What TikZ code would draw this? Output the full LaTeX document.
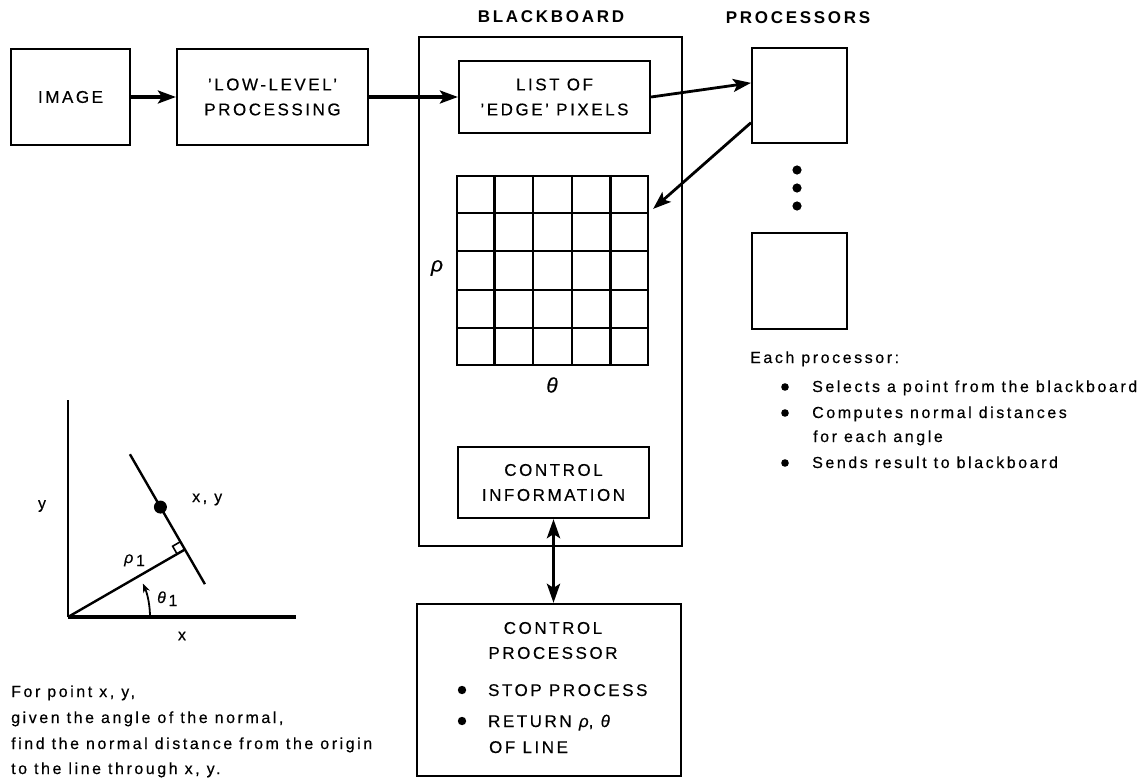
\documentclass[tikz,border=0pt]{standalone}
\usepackage{fontspec}
\setmainfont{Liberation Sans}
\newfontfamily\capsfont{Liberation Sans}[LetterSpace=15,FakeBold=0.4]
\newfontfamily\headfont{Liberation Sans Bold}[LetterSpace=16]
\newfontfamily\bodyfont{Liberation Sans}[LetterSpace=16,FakeBold=0.4]
\newfontfamily\captfont{Liberation Sans}[LetterSpace=16,FakeBold=0.4]
\newfontfamily\grkfont{Liberation Sans Italic}[FakeBold=0.4]
\newcommand{\grho}{{\grkfont ρ}}
\newcommand{\gtheta}{{\grkfont θ}}
\usetikzlibrary{arrows.meta,calc}
\begin{document}
\begin{tikzpicture}[x=1pt,y=-1pt,
  box/.style={draw, line width=2.2pt, inner sep=0pt, align=center,
    font=\capsfont\fontsize{17}{25}\selectfont},
  thinbox/.style={draw, line width=1.6pt, inner sep=0pt},
  head/.style={inner sep=0pt, font=\headfont\fontsize{17}{20}\selectfont},
  body/.style={inner sep=0pt, anchor=base west, font=\bodyfont\fontsize{16}{20}\selectfont},
  capt/.style={inner sep=0pt, anchor=base west, font=\captfont\fontsize{16}{20}\selectfont},
  lbl/.style={inner sep=0pt, font=\bodyfont\fontsize{16}{20}\selectfont},
  arr/.style={line width=3.2pt, -{Stealth[length=18pt,width=13pt,inset=4pt]}},
  darr/.style={line width=3.4pt, {Stealth[length=19pt,width=13pt,inset=4pt]}-{Stealth[length=19pt,width=13pt,inset=4pt]}},
  gridline/.style={line width=2.2pt},
  axis/.style={line width=2.4pt},
  dotmark/.style={fill=black}
]
\useasboundingbox (0,0) rectangle (1145,778);

% top row boxes
\node[box, minimum width=119pt, minimum height=96pt] (img) at (70.5,97) {IMAGE};
\node[box, minimum width=191pt, minimum height=96pt] (low) at (272.5,97) {’LOW-LEVEL’\\PROCESSING};

% blackboard
\node[head] (bbl) at (551,17) {BLACKBOARD};
\node[thinbox, minimum width=263pt, minimum height=509pt] (bb) at (550.5,291.5) {};
\node[box, minimum width=191pt, minimum height=72pt] (list) at (554.5,97) {LIST OF\\’EDGE’ PIXELS};

% accumulator grid
\node[draw, gridline, inner sep=0pt, minimum width=191pt, minimum height=189pt] (grid) at (552.5,270.5) {};
\foreach \i in {1,...,4} {
  \draw[gridline] ($(grid.north west)!\i/5!(grid.north east)$) -- ($(grid.south west)!\i/5!(grid.south east)$);
  \draw[gridline] ($(grid.north west)!\i/5!(grid.south west)$) -- ($(grid.north east)!\i/5!(grid.south east)$);
}
\node[inner sep=0pt, font=\fontsize{21}{21}\selectfont] (rho) at (437,268) {\grho};
\node[inner sep=0pt, font=\fontsize{21}{21}\selectfont] (theta) at (552,385) {\gtheta};

\node[box, minimum width=191pt, minimum height=71pt] (cinfo) at (553.5,482.5) {CONTROL\\INFORMATION};

% control processor
\node[box, minimum width=264pt, minimum height=172pt] (cproc) at (549,690) {};
\node[box, draw=none, anchor=center] (cproct) at (553,640.5) {CONTROL\\PROCESSOR};
\fill[dotmark] (462,690) circle (4.2);
\fill[dotmark] (462,721) circle (4.2);
\node[box, draw=none, anchor=base west] (stop) at (487,696) {STOP PROCESS};
\node[box, draw=none, anchor=base west] (ret) at (487,727) {RETURN \grho, \gtheta};
\node[box, draw=none, anchor=base west] (ofl) at (488,753) {OF LINE};

% processors
\node[head] (procl) at (798,18) {PROCESSORS};
\node[thinbox, line width=2pt, minimum width=95pt, minimum height=95pt] (p1) at (799.5,95.5) {};
\node[thinbox, line width=2pt, minimum width=95pt, minimum height=96pt] (p2) at (799.5,281) {};
\fill[dotmark] (797,170) circle (4.6);
\fill[dotmark] (797,188) circle (4.6);
\fill[dotmark] (797,206) circle (4.6);

\node[body] (each) at (750,363) {Each processor:};
\fill[dotmark] (785,387) circle (3.8);
\fill[dotmark] (785,413) circle (3.8);
\fill[dotmark] (785,463) circle (3.8);
\node[body] (b1) at (812,392) {Selects a point from the blackboard};
\node[body] (b2) at (812,418) {Computes normal distances};
\node[body] (b2b) at (813,442) {for each angle};
\node[body] (b3) at (812,468) {Sends result to blackboard};

% connectors
\draw[arr] (img.east) -- (low.west);
\draw[arr] (low.east) -- (list.west);
\coordinate (p1in) at ($(p1.north west)!0.37!(p1.south west)$);
\coordinate (p1out) at ($(p1.north west)!0.78!(p1.south west)$);
\coordinate (gridin) at ($(grid.north east)+(4,34)$);
\draw[arr, line width=2.8pt] (list.east) -- (p1in);
\draw[arr, line width=2.8pt] (p1out) -- (gridin);
\draw[darr] (cinfo.south) -- (cinfo.south |- cproc.north);

% geometry diagram
\coordinate (O) at (68,617);
\coordinate (Ytop) at (68,400);
\coordinate (Xend) at (296,617);
\coordinate (F) at ($(O)+(-30:135)$);
\coordinate (L1) at ($(F)+(-120:110)$);
\coordinate (L2) at ($(F)+(60:40)$);
\coordinate (P) at ($(F)+(-120:49)$);
\draw[axis, line width=2.2pt] (O) -- (Ytop);
\draw[axis, line width=3.2pt] (O) -- (Xend);
\draw[axis] (O) -- (F);
\draw[axis] (L1) -- (L2);
\draw[line width=1.6pt] (F) -- ++(150:9) -- ++(-120:9) -- ++(-30:9);
\fill[dotmark] (P) circle (6.5);
\draw[line width=1.8pt, -{Stealth[length=9pt,width=7pt]}] ($(O)+(82,0)$) arc[start angle=0, end angle=-24, radius=82];
\node[lbl, anchor=base west] (xy) at (192,502) {x, y};
\node[lbl] (ylab) at (42,506) {y};
\node[lbl] (xlab) at (182,636) {x};
\node[lbl, anchor=base west] (rho1) at (124,563) {\grho\,\raisebox{-3pt}{1}};
\node[lbl, anchor=base west] (th1) at (157,603) {\gtheta\,\raisebox{-3pt}{1}};

% caption
\node[capt] (c1) at (11,697) {For point x, y,};
\node[capt] (c2) at (11,723) {given the angle of the normal,};
\node[capt] (c3) at (11,749) {find the normal distance from the origin};
\node[capt] (c4) at (11,774) {to the line through x, y.};
\end{tikzpicture}
\end{document}
